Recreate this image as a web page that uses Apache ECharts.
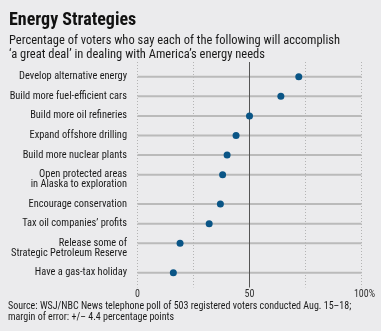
<!DOCTYPE html>
<html>
<head>
<meta charset="utf-8">
<script src="https://cdn.jsdelivr.net/npm/echarts@6/dist/echarts.min.js"></script>
<style>
html,body{margin:0;padding:0;background:#ebebed;}
#chart{width:381px;height:331px;}
</style>
</head>
<body>
<div id="chart"></div>
<script>
const categories = [
  "Develop alternative energy",
  "Build more fuel-efficient cars",
  "Build more oil refineries",
  "Expand offshore drilling",
  "Build more nuclear plants",
  "Open protected areas\nin Alaska to exploration",
  "Encourage conservation",
  "Tax oil companies’ profits",
  "Release some of\nStrategic Petroleum Reserve",
  "Have a gas-tax holiday"
];
const values = [72, 64, 50, 44, 40, 38, 37, 32, 19, 16];
const xTickLabels = { 0: "0", 50: "50", 100: "{p|100%}" };

const FONT = "'Roboto Condensed', 'Open Sans Condensed', 'DejaVu Sans Condensed', sans-serif";
const AXIS_MAX = 100;

// Each text line of a label gets one slot; each row is followed by a blank slot.
const slotKeys = [], slotText = [], slotValue = [], slotLine = [];
function addSlot(text, val, line) {
  slotKeys.push("s" + slotKeys.length);
  slotText.push(text);
  slotValue.push(val);
  slotLine.push(line);
}
addSlot("", null, null);
categories.forEach((c, i) => {
  const lines = c.split("\n");
  lines.forEach((ln, j) => addSlot(ln, j === 0 ? values[i] : null, j === 0 ? AXIS_MAX : null));
  addSlot("", null, null);
});

const chart = echarts.init(document.getElementById('chart'), null, { renderer: 'canvas' });
chart.setOption({
  backgroundColor: '#ebebed',
  animation: false,
  textStyle: { fontFamily: FONT },
  title: [
    { text: 'Energy Strategies', left: 9, top: 11.5, padding: 0,
      textStyle: { fontFamily: FONT, fontSize: 18, fontWeight: 'bold', color: '#111' } },
    { text: 'Percentage of voters who say each of the following will accomplish\n‘a great deal’ in dealing with America’s energy needs',
      left: 9, top: 34, padding: 0,
      textStyle: { fontFamily: FONT, fontSize: 12.5, fontWeight: 'normal', color: '#1a1a1a', lineHeight: 14 } },
    { text: 'Source: WSJ/NBC News telephone poll of 503 registered voters conducted Aug. 15–18;\nmargin of error: +/– 4.4 percentage points',
      left: 8, top: 300.5, padding: 0,
      textStyle: { fontFamily: FONT, fontSize: 10, fontWeight: 'normal', color: '#1a1a1a', lineHeight: 11 } }
  ],
  grid: { left: 137.5, right: 19.5, top: 62, height: 225.4, outerBoundsMode: 'none' },
  xAxis: {
    type: 'value', min: 0, max: AXIS_MAX, interval: 25,
    axisLine: { show: false }, axisTick: { show: false },
    splitLine: { show: true, lineStyle: { color: '#b4b4b4', width: 1, type: [1, 2] } },
    axisLabel: {
      margin: 2, fontSize: 10, color: '#333', fontFamily: FONT,
      formatter: v => (xTickLabels[v] !== undefined ? xTickLabels[v] : ''),
      rich: { p: { fontSize: 10, color: '#333', fontFamily: FONT, padding: [0, 0, 0, 6] } }
    }
  },
  yAxis: {
    type: 'category', data: slotKeys, inverse: true,
    axisLine: { show: false }, axisTick: { show: false }, splitLine: { show: false },
    axisLabel: {
      interval: 0, margin: 10.5, fontSize: 10.4, color: '#1a1a1a', fontFamily: FONT,
      formatter: (v, i) => slotText[i]
    }
  },
  series: [
    { type: 'bar', data: slotLine, barWidth: 2, silent: true, itemStyle: { color: '#bababa' }, z: 1 },
    {
      type: 'scatter', data: slotValue, symbolSize: 7, silent: true,
      itemStyle: { color: '#0a5586', opacity: 1 }, z: 5,
      markLine: { silent: true, symbol: 'none', label: { show: false },
        lineStyle: { color: '#555', width: 1, type: 'solid' }, data: [{ xAxis: 50 }] }
    }
  ]
});
</script>
</body>
</html>
